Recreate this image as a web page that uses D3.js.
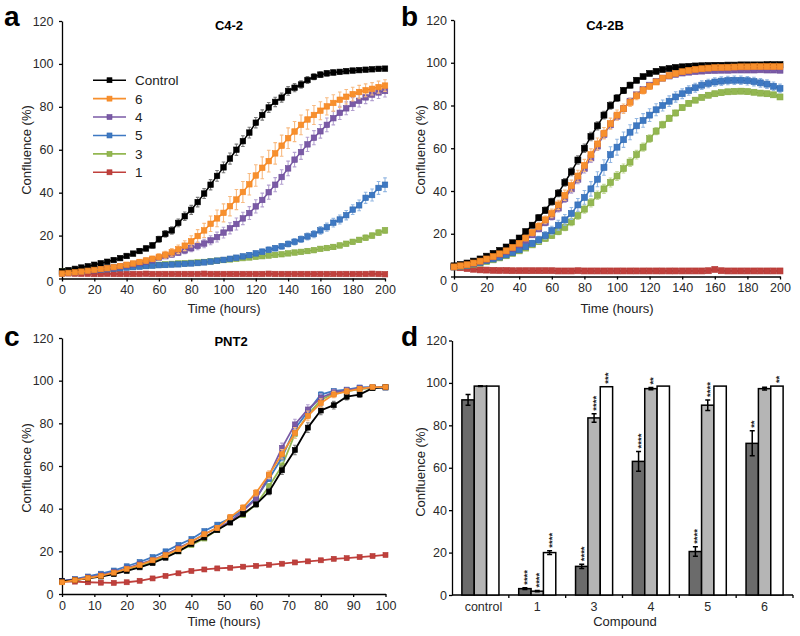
<!DOCTYPE html>
<html><head><meta charset="utf-8">
<script src="https://cdn.jsdelivr.net/npm/d3@7"></script>
<style>body{margin:0;background:#fff}svg{display:block}</style>
</head><body><svg id="chart" width="800" height="636"></svg>
<script>
// ---------------- DATA ----------------
const seriesNames = ["Control","6","4","5","3","1"];
const yTicks = [0,20,40,60,80,100,120];
const xTicksAB = [0,20,40,60,80,100,120,140,160,180,200];
const xTicksC = [0,10,20,30,40,50,60,70,80,90,100];
const timesAB = [0,4,8,12,16,20,24,28,32,36,40,44,48,52,56,60,64,68,72,76,80,84,88,92,96,100,104,108,112,116,120,124,128,132,136,140,144,148,152,156,160,164,168,172,176,180,184,188,192,196,200];
const timesC = [0,4,8,12,16,20,24,28,32,36,40,44,48,52,56,60,64,68,72,76,80,84,88,92,96,100];

// Panel a (C4-2)
const ctrlA   = [3.3,3.9,4.5,5.1,5.7,6.4,7.1,7.8,8.6,9.5,10.5,11.6,12.8,14,15.4,18.3,20.8,22.4,25.9,29,32,35.6,39.6,43.7,47.8,51.8,55.9,60,64,68,72.6,76.2,79.7,82.3,84.3,87.4,88.9,90.4,92.5,94,95,95.6,96,96.3,96.6,96.9,97.1,97.3,97.5,97.7,97.8];
const cpd6A   = [2.3,2.6,2.9,3.2,3.6,4,4.4,4.8,5.3,5.8,6.4,7,7.7,8.4,9.2,10.1,11.1,12.2,13.6,15.3,17.3,19.8,22.4,25.5,28,30.6,33.7,36.8,40.3,43.9,48,51.6,54.7,58.3,61.9,65.4,68.5,71.6,74.1,76.2,78.2,80.2,81.8,83.3,84.7,85.9,86.9,87.7,88.4,89.2,89.9];
const cpd4A   = [2.3,2.6,2.9,3.2,3.5,3.9,4.3,4.7,5.1,5.6,6.1,6.6,7.2,7.8,8.5,9.6,10.4,11.2,12.1,13.1,14.1,15.2,16.3,17.8,19.3,21.4,23.4,25.4,28,30.5,33.6,36.6,40.2,43.7,47.3,51.3,55.4,58.9,62.5,65.6,68.6,71.6,74.7,77.2,79.3,81.3,82.8,84.4,85.7,86.7,87.4];
const cpd5A   = [2.8,3,3.2,3.4,3.7,3.9,4.1,4.3,4.6,4.8,5.1,5.3,5.5,5.8,6,6.2,6.3,6.5,6.6,6.8,7,7.2,7.5,7.9,8.3,8.7,9.2,9.7,10.3,10.9,11.7,12.5,13.4,14.1,15,16.1,17.1,18.3,19.6,20.7,22.4,23.9,26,27.5,29.5,32.1,34.1,37.6,38.9,42.2,43.7];
const cpd3A   = [3.3,3.5,3.7,3.9,4.1,4.3,4.5,4.7,5,5.2,5.4,5.6,5.8,6,6.2,6.4,6.6,6.8,7,7.1,7.3,7.5,7.7,8,8.3,8.6,8.9,9.2,9.5,9.8,10.1,10.4,10.7,11,11.3,11.7,12.1,12.4,12.8,13.2,13.8,14.2,14.7,15.4,16.2,17.1,18,19,20,21.4,22.4];
const cpd1A   = [2.6,2.4,2.3,2.2,2.2,2.1,2.1,2.2,2.1,2.1,2.1,2.1,2.1,2.2,2.1,2.1,2.1,2.1,2.1,2.1,2.1,2.1,2.2,2.1,2.1,2.1,2.1,2.1,2.1,2.1,2.1,2.1,2.2,2.1,2.1,2.1,2.1,2.1,2.1,2.1,2.1,2.1,2.1,2.1,2.1,2.1,2.1,2.1,2.2,2.1,2];
const errCtrlA = [0.3,0.3,0.4,0.4,0.4,0.5,0.5,0.6,0.6,0.7,0.8,0.9,1,1.1,1.2,1.4,1.5,1.7,1.8,2,2.1,2.2,2.3,2.4,2.5,2.5,2.6,2.6,2.5,2.5,2.4,2.4,2.3,2.2,2.1,2,1.9,1.7,1.6,1.4,1.3,1.2,1.1,1,1,0.9,0.9,0.8,0.8,0.8,0.8];
const err6A    = [0.4,0.4,0.4,0.5,0.5,0.5,0.6,0.6,0.7,0.7,0.8,0.9,1,1.1,1.2,1.4,1.6,1.8,2,2.3,2.6,3,3.3,3.6,3.9,4.2,4.5,4.7,4.9,5,5,5.1,5.1,5,4.9,4.8,4.7,4.6,4.5,4.4,4.2,4,3.8,3.6,3.4,3.2,3.1,3,2.9,2.8,2.7];
const err4A    = [0.3,0.3,0.3,0.4,0.4,0.4,0.5,0.5,0.5,0.6,0.6,0.7,0.7,0.8,0.9,1,1.1,1.2,1.3,1.5,1.6,1.8,2,2.1,2.3,2.5,2.6,2.8,2.9,3,3.1,3.2,3.3,3.3,3.4,3.4,3.4,3.4,3.3,3.3,3.2,3.2,3.1,3.1,3,3,2.9,2.9,2.8,2.8,2.8];
const err5A    = [0.3,0.3,0.3,0.3,0.3,0.3,0.4,0.4,0.4,0.4,0.4,0.5,0.5,0.5,0.5,0.6,0.6,0.6,0.6,0.7,0.7,0.7,0.8,0.8,0.8,0.9,0.9,1,1,1.1,1.1,1.2,1.2,1.3,1.3,1.4,1.5,1.5,1.6,1.7,1.8,1.9,2,2.1,2.2,2.3,2.5,2.6,2.8,3,3.2];
const err3A    = [0.3,0.3,0.3,0.3,0.3,0.3,0.3,0.3,0.4,0.4,0.4,0.4,0.4,0.4,0.4,0.5,0.5,0.5,0.5,0.5,0.5,0.5,0.6,0.6,0.6,0.6,0.6,0.6,0.7,0.7,0.7,0.7,0.7,0.8,0.8,0.8,0.8,0.8,0.9,0.9,0.9,0.9,1,1,1,1.1,1.1,1.2,1.2,1.3,1.3];
const err1A    = [0.3,0.3,0.3,0.3,0.3,0.3,0.3,0.3,0.3,0.3,0.3,0.3,0.3,0.3,0.3,0.3,0.3,0.3,0.3,0.3,0.3,0.3,0.3,0.3,0.3,0.3,0.3,0.3,0.3,0.3,0.3,0.3,0.3,0.3,0.3,0.3,0.3,0.3,0.3,0.3,0.3,0.3,0.3,0.3,0.3,0.3,0.3,0.3,0.3,0.3,0.3];

// Panel b (C4-2B)
const ctrlB   = [5,5.6,6.3,7.2,8.2,9.5,10.8,12.2,13.8,15.8,18,21,24,27.5,31,35,39,44,49,54.5,60,65.5,70.5,75.5,80,83.5,87,89.5,91.8,93.5,95,96,96.8,97.3,97.8,98.1,98.3,98.5,98.6,98.7,98.8,98.8,98.9,98.9,99,99,99,99,99.1,99.1,99.1];
const cpd6B   = [4.5,5,5.5,6.3,7.2,8.2,9.3,10.6,12,13.6,15.5,18,20.5,23.5,26.5,29.5,33.5,38,42.5,47,52,57,62,67,71.5,75.5,78.5,81.5,84.5,87,89,91,92.8,94,95,95.8,96.4,96.9,97.2,97.5,97.7,97.8,97.9,98,98.1,98.1,98.2,98.2,98.2,98.2,98.2];
const cpd4B   = [4.5,5,5.5,6.2,7,8,9.1,10.3,11.6,13.1,14.8,17,19.5,22.3,25.3,28,32,36.5,41,45.5,50.5,55.5,61,66.5,71,75,78.5,82,85,87.5,89.5,91.3,92.8,93.8,94.6,95.2,95.6,95.9,96.1,96.3,96.4,96.5,96.5,96.6,96.6,96.6,96.6,96.7,96.6,96.6,96.5];
const cpd5B   = [4.5,4.9,5.3,5.9,6.6,7.4,8.2,9.1,10.1,11.2,12.5,14,15.5,17.2,19.2,21.5,24,26.5,29.5,33.5,37,41,45.5,51,57,60.5,64,67.5,70.5,73,75.5,78,80,82,84,85.5,87,88.3,89.5,90.3,91,91.4,91.7,91.8,91.8,91.6,91.2,90.6,90,89,88];
const cpd3B   = [4.5,4.8,5.2,5.7,6.3,7,7.8,8.7,9.7,10.8,12,13.3,14.8,16.3,17.8,19.2,21,23,25.5,28.5,31.5,34.5,38,41,44,47,50.5,53.5,57,60.5,64.5,68,71,74,76.5,79,81,82.5,83.8,84.8,85.5,86,86.4,86.6,86.7,86.5,86.2,85.8,85.5,85,84];
const cpd1B   = [4.5,4.1,3.7,3.4,3.1,3,2.9,2.8,2.8,2.7,2.7,2.7,2.7,2.7,2.7,2.7,2.6,2.6,2.6,2.7,2.6,2.6,2.6,2.6,2.6,2.6,2.6,2.6,2.6,2.6,2.6,2.6,2.6,2.6,2.6,2.6,2.6,2.6,2.6,2.7,3.3,2.7,2.6,2.6,2.6,2.6,2.6,2.6,2.6,2.6,2.6];
const errCtrlB = [0.3,0.3,0.4,0.4,0.5,0.5,0.6,0.7,0.8,0.9,1,1.1,1.2,1.4,1.5,1.6,1.7,1.8,1.9,2,2,2,1.9,1.8,1.7,1.6,1.4,1.3,1.1,1,0.9,0.8,0.7,0.6,0.6,0.5,0.5,0.5,0.4,0.4,0.4,0.4,0.4,0.4,0.4,0.4,0.4,0.4,0.4,0.4,0.4];
const err6B    = [0.3,0.3,0.4,0.4,0.5,0.5,0.6,0.7,0.8,0.9,1,1.2,1.4,1.6,1.8,2,2.2,2.4,2.6,2.7,2.8,2.8,2.8,2.7,2.6,2.4,2.2,2,1.8,1.6,1.4,1.2,1.1,1,0.9,0.8,0.8,0.7,0.7,0.7,0.7,0.7,0.7,0.7,0.7,0.7,0.7,0.7,0.7,0.7,0.7];
const err4B    = [0.3,0.3,0.3,0.4,0.4,0.5,0.5,0.6,0.7,0.8,0.9,1,1.2,1.3,1.5,1.6,1.8,1.9,2,2.1,2.1,2.1,2,1.9,1.8,1.7,1.5,1.4,1.2,1.1,1,0.9,0.8,0.7,0.7,0.6,0.6,0.6,0.6,0.6,0.6,0.6,0.6,0.6,0.6,0.6,0.6,0.6,0.6,0.6,0.6];
const err5B    = [0.3,0.3,0.4,0.4,0.5,0.5,0.6,0.7,0.8,0.9,1,1.2,1.4,1.6,1.8,2,2.3,2.5,2.8,3,3.2,3.4,3.5,3.6,3.7,3.7,3.6,3.5,3.4,3.2,3,2.8,2.6,2.5,2.4,2.3,2.2,2.1,2,2,2,2,2,2,2,2,2,2,2,2,2];
const err3B    = [0.3,0.3,0.3,0.4,0.4,0.5,0.5,0.6,0.7,0.8,0.9,1,1.1,1.2,1.3,1.4,1.5,1.6,1.7,1.8,1.9,2,2,2.1,2.1,2.1,2.1,2,2,1.9,1.8,1.7,1.6,1.5,1.4,1.3,1.3,1.2,1.2,1.2,1.2,1.2,1.2,1.2,1.2,1.2,1.2,1.2,1.2,1.2,1.2];
const err1B    = [0.4,0.4,0.4,0.3,0.3,0.3,0.3,0.3,0.3,0.3,0.3,0.3,0.3,0.3,0.3,0.3,0.3,0.3,0.3,0.3,0.3,0.3,0.3,0.3,0.3,0.3,0.3,0.3,0.3,0.3,0.3,0.3,0.3,0.3,0.3,0.3,0.3,0.3,0.3,0.3,0.5,0.3,0.3,0.3,0.3,0.3,0.3,0.3,0.3,0.3,0.3];

// Panel c (PNT2)
const ctrlC   = [6,6.5,7.3,8.2,9.3,10.8,12.5,14.5,17,20,23.5,26.5,30,33.5,37.5,42,48,58,67.5,78,86,88.5,92.5,93.5,96.5,97];
const cpd6C   = [5.5,6.5,7.5,8.5,10,11.8,13.5,15.8,18.2,21,24.5,28,31,36,40.5,47.5,56,65.5,75.5,83.5,89.5,93.5,95,96.2,97,97];
const cpd4C   = [6,6.8,7.8,8.8,10.3,12,14,16,18.5,21.5,24.5,28,31,34,39,44.5,55.5,68.5,79.5,86.5,92,94.5,95.5,96.5,96.8,96.8];
const cpd5C   = [6.2,7,8.2,9.5,11,13,15,17.3,20,23,25.8,29.5,32.5,35.5,39.5,45,54,64,77.5,85.5,93.5,95.2,95.8,96.8,97,96.8];
const cpd3C   = [5.8,6.5,7.5,8.5,9.8,11.5,13,15,17.5,20,23,26,30,34,37,42,50.5,60,75,84,91,94,95,96,96.5,96.8];
const cpd1C   = [5.8,5.8,5.5,5.3,5.2,5.5,6.2,7.3,8.5,9.7,10.8,11.5,12,12.3,12.8,13.2,13.7,14.2,14.8,15.3,15.8,16.5,16.8,17.3,17.8,18.3];
const errCtrlC = [0.3,0.3,0.4,0.4,0.5,0.5,0.6,0.6,0.7,0.7,0.8,0.8,0.9,1,1,1.2,1.5,2,2.2,2.3,2,1.8,1.5,1.2,1,0.8];
const err6C    = [0.3,0.3,0.4,0.4,0.5,0.5,0.6,0.7,0.8,0.9,1,1,1.1,1.2,1.3,1.5,1.8,2.2,2.5,2.3,2,1.5,1.2,1,0.8,0.6];
const err4C    = [0.3,0.3,0.3,0.4,0.4,0.5,0.5,0.6,0.6,0.7,0.7,0.8,0.8,0.9,1,1.2,1.6,2.2,2.4,2.2,1.8,1.4,1.1,0.9,0.7,0.6];
const err5C    = [0.3,0.3,0.3,0.4,0.4,0.4,0.5,0.5,0.6,0.6,0.7,0.7,0.8,0.8,0.9,1,1.3,1.6,1.8,1.6,1.3,1,0.8,0.7,0.6,0.5];
const err3C    = [0.3,0.3,0.3,0.3,0.4,0.4,0.4,0.5,0.5,0.6,0.6,0.7,0.7,0.8,0.9,1,1.3,1.7,2,1.8,1.4,1,0.8,0.7,0.6,0.5];
const err1C    = [0.2,0.2,0.2,0.2,0.2,0.2,0.3,0.3,0.3,0.3,0.3,0.3,0.3,0.3,0.3,0.3,0.3,0.3,0.3,0.4,0.4,0.4,0.4,0.4,0.4,0.4];

// Panel d (bars)
const compounds  = ["control","1","3","4","5","6"];
const barDark    = [92,3,13.5,63,20.5,71.5];
const barDarkErr = [2.5,0.4,1,4.7,2.2,5.9];
const barLight   = [98.5,1.8,83.5,97.3,89.5,97.3];
const barLightErr= [0.2,0.3,2,0.5,2.5,0.6];
const barWhite   = [98.5,20,98.2,98.5,98.5,98.5];
const barWhiteErr= [0,0.9,0,0,0,0];
const starsDark  = ["","****","****","****","****","**"];
const starsLight = ["","****","****","**","****",""];
const starsWhite = ["","****","***","","","**"];

// ---------------- DRAWING ----------------
const FONT = '"Liberation Sans", Arial, Helvetica, sans-serif';
const svg = d3.select("#chart");
const colors = {"Control":"#000000","6":"#f7902e","4":"#7a5aa6","5":"#3e79c3","3":"#93b751","1":"#c0403c"};
const markStroke = {"Control":"#000000","6":"#f58420","4":"#6c4d98","5":"#3169b0","3":"#86aa44","1":"#b03632"};
const errColors = {"Control":"#7a7a7a","6":"#f8bb82","4":"#b3a0d0","5":"#93b7e2","3":"#c3da98","1":"#dc9b98"};
const drawOrder = ["1","3","5","4","Control","6"];

function styleAxis(g, fs){
  g.attr("font-family", FONT).attr("font-size", fs);
  g.select(".domain").attr("stroke","#000").attr("stroke-width",1.3);
  g.selectAll(".tick line").attr("stroke","#000").attr("stroke-width",1.3);
  g.selectAll(".tick text").attr("fill","#2a2a2a");
}

function drawAxes(x, y, box, xTicks, padY, zeroShift){
  const gx = svg.append("g").attr("transform",`translate(0,${box.b})`)
    .call(d3.axisBottom(x).tickValues(xTicks).tickSize(3).tickSizeOuter(0).tickPadding(4));
  styleAxis(gx, 12.5);
  const gy = svg.append("g").attr("transform",`translate(${box.l},0)`)
    .call(d3.axisLeft(y).tickValues(yTicks).tickSize(3).tickSizeOuter(0).tickPadding(padY));
  styleAxis(gy, 12.5);
  gy.selectAll(".tick text").filter(d=>d===0).attr("dy", (0.32*12.5 + zeroShift) + "px");
}

function linePanel(box, times, vals, errs, xTicks, msize, lw, cap, padY, zeroShift){
  const x = d3.scaleLinear().domain([xTicks[0], xTicks[xTicks.length-1]]).range([box.l, box.r]);
  const y = d3.scaleLinear().domain([0,120]).range([box.b, box.t]);
  drawAxes(x, y, box, xTicks, padY, zeroShift);
  const g = svg.append("g");
  drawOrder.forEach(name => {
    const v = vals[name], e = errs[name];
    const sg = g.append("g");
    sg.append("g").selectAll("path").data(v).join("path")
      .attr("d",(d,i)=>{
        const cx = x(times[i]), y1 = y(d+e[i]), y0 = y(Math.max(0,d-e[i]));
        return `M${cx},${y0}V${y1}M${cx-cap},${y1}H${cx+cap}M${cx-cap},${y0}H${cx+cap}`;
      })
      .attr("fill","none").attr("stroke",errColors[name]).attr("stroke-width",1.1);
    sg.append("path").datum(v)
      .attr("d", d3.line().x((d,i)=>x(times[i])).y(d=>y(d)))
      .attr("fill","none").attr("stroke",colors[name]).attr("stroke-width",lw);
    sg.append("g").selectAll("rect").data(v).join("rect")
      .attr("x",(d,i)=>x(times[i])-msize/2).attr("y",d=>y(d)-msize/2)
      .attr("width",msize).attr("height",msize)
      .attr("fill",colors[name]).attr("stroke",markStroke[name]).attr("stroke-width",0.6);
  });
  return {x,y};
}

function text(x, y, s, opts){
  const t = svg.append("text").attr("x",x).attr("y",y).text(s)
    .attr("font-family",FONT).attr("font-size",opts.size||13)
    .attr("fill",opts.fill||"#222").attr("text-anchor",opts.anchor||"middle");
  if (opts.bold) t.attr("font-weight","bold");
  if (opts.rotate) t.attr("transform",`rotate(-90,${x},${y})`);
  return t;
}

// Panel a
const boxA = {l:62, r:385, t:21, b:278.5};
linePanel(boxA, timesAB,
  {"Control":ctrlA,"6":cpd6A,"4":cpd4A,"5":cpd5A,"3":cpd3A,"1":cpd1A},
  {"Control":errCtrlA,"6":err6A,"4":err4A,"5":err5A,"3":err3A,"1":err1A},
  xTicksAB, 5.5, 1.5, 1.8, 5.5, 3);
// Panel b
const boxB = {l:454, r:780, t:20, b:276.5};
linePanel(boxB, timesAB,
  {"Control":ctrlB,"6":cpd6B,"4":cpd4B,"5":cpd5B,"3":cpd3B,"1":cpd1B},
  {"Control":errCtrlB,"6":err6B,"4":err4B,"5":err5B,"3":err3B,"1":err1B},
  xTicksAB, 6, 1.5, 1.8, 4, 4);
// Panel c
const boxC = {l:62, r:385.5, t:338, b:594};
linePanel(boxC, timesC,
  {"Control":ctrlC,"6":cpd6C,"4":cpd4C,"5":cpd5C,"3":cpd3C,"1":cpd1C},
  {"Control":errCtrlC,"6":err6C,"4":err4C,"5":err5C,"3":err3C,"1":err1C},
  xTicksC, 5, 1.8, 1.8, 5.5, 0);

// Legend (panel a)
const legY = d3.scaleBand().domain(seriesNames).range([71, 181.5]);
seriesNames.forEach(n => {
  const yy = legY(n) + legY.bandwidth()/2;
  svg.append("line").attr("x1",93).attr("x2",126).attr("y1",yy).attr("y2",yy)
    .attr("stroke",colors[n]).attr("stroke-width",1.6);
  svg.append("rect").attr("x",109.5-2.5).attr("y",yy-2.5).attr("width",5).attr("height",5)
    .attr("fill",colors[n]).attr("stroke",markStroke[n]).attr("stroke-width",0.6);
  text(135, yy+5, n, {size:13.5, anchor:"start", fill:"#222"});
});

// Panel d
const boxD = {l:452, r:793, t:340.5, b:595};
const xd = d3.scaleBand().domain(compounds).range([boxD.l, boxD.r]).paddingInner(0).paddingOuter(0);
const sub = d3.scaleBand().domain([0,1,2]).range([0, xd.bandwidth()]).paddingInner(0).paddingOuter(0.8);
const yd = d3.scaleLinear().domain([0,120]).range([boxD.b, boxD.t]);
{
  const gy = svg.append("g").attr("transform",`translate(${boxD.l},0)`)
    .call(d3.axisLeft(yd).tickValues(yTicks).tickSize(3).tickSizeOuter(0).tickPadding(2));
  styleAxis(gy, 12.5);
  const gx = svg.append("g");
  gx.append("line").attr("x1",boxD.l).attr("x2",boxD.r).attr("y1",boxD.b).attr("y2",boxD.b)
    .attr("stroke","#000").attr("stroke-width",1.3);
  compounds.forEach((c,i) => {
    const xr = xd(c) + xd.bandwidth();
    gx.append("line").attr("x1",xr).attr("x2",xr).attr("y1",boxD.b).attr("y2",boxD.b+3)
      .attr("stroke","#000").attr("stroke-width",1.3);
    text(xd(c)+xd.bandwidth()/2 + (i===0?3:0), boxD.b+16, c, {size:12.5, fill:"#2a2a2a"});
  });
}
const barSets = [
  {vals:barDark, errs:barDarkErr, stars:starsDark, fill:"#6b6b6b"},
  {vals:barLight, errs:barLightErr, stars:starsLight, fill:"#b5b5b5"},
  {vals:barWhite, errs:barWhiteErr, stars:starsWhite, fill:"#ffffff"}
];
barSets.forEach((s, k) => {
  const g = svg.append("g");
  g.selectAll("rect").data(s.vals).join("rect")
    .attr("x",(d,i)=>xd(compounds[i]) + sub(k))
    .attr("y",d=>yd(d)).attr("width",sub.bandwidth()).attr("height",d=>boxD.b-yd(d))
    .attr("fill",s.fill).attr("stroke","#000").attr("stroke-width",1.5);
  g.selectAll("path.eb").data(s.vals).join("path").attr("class","eb")
    .attr("d",(d,i)=>{
      if (!s.errs[i]) return "";
      const cx = xd(compounds[i]) + sub(k) + sub.bandwidth()/2;
      const y1 = yd(d+s.errs[i]), y0 = yd(d-s.errs[i]);
      return `M${cx},${y0}V${y1}M${cx-2.5},${y1}H${cx+2.5}M${cx-2.5},${y0}H${cx+2.5}`;
    })
    .attr("fill","none").attr("stroke","#000").attr("stroke-width",1.5);
  s.vals.forEach((d,i) => {
    if (!s.stars[i]) return;
    const cx = xd(compounds[i]) + sub(k) + sub.bandwidth()/2;
    const top = yd(d + s.errs[i]) - 3;
    svg.append("text").text(s.stars[i])
      .attr("transform",`translate(${cx+5},${top}) rotate(-90)`)
      .attr("font-family",FONT).attr("font-size",9.5).attr("font-weight","bold")
      .attr("fill","#222").attr("text-anchor","start");
  });
});

// Titles, axis labels, panel letters
text(229, 30, "C4-2", {size:13, bold:true, fill:"#000"});
text(605, 30, "C4-2B", {size:13, bold:true, fill:"#000"});
text(231, 346, "PNT2", {size:13, bold:true, fill:"#000"});
text(31, 150, "Confluence (%)", {size:13, rotate:true});
text(425, 150, "Confluence (%)", {size:13, rotate:true});
text(31, 468, "Confluence (%)", {size:13, rotate:true});
text(425, 472, "Confluence (%)", {size:13, rotate:true});
text(224, 313, "Time (hours)", {size:13});
text(617, 313, "Time (hours)", {size:13});
text(224, 626, "Time (hours)", {size:13});
text(625, 626, "Compound", {size:13});
text(4, 26, "a", {size:28, bold:true, anchor:"start", fill:"#000"});
text(401, 26, "b", {size:28, bold:true, anchor:"start", fill:"#000"});
text(4, 346, "c", {size:28, bold:true, anchor:"start", fill:"#000"});
text(401, 346, "d", {size:28, bold:true, anchor:"start", fill:"#000"});
</script>
</body></html>
